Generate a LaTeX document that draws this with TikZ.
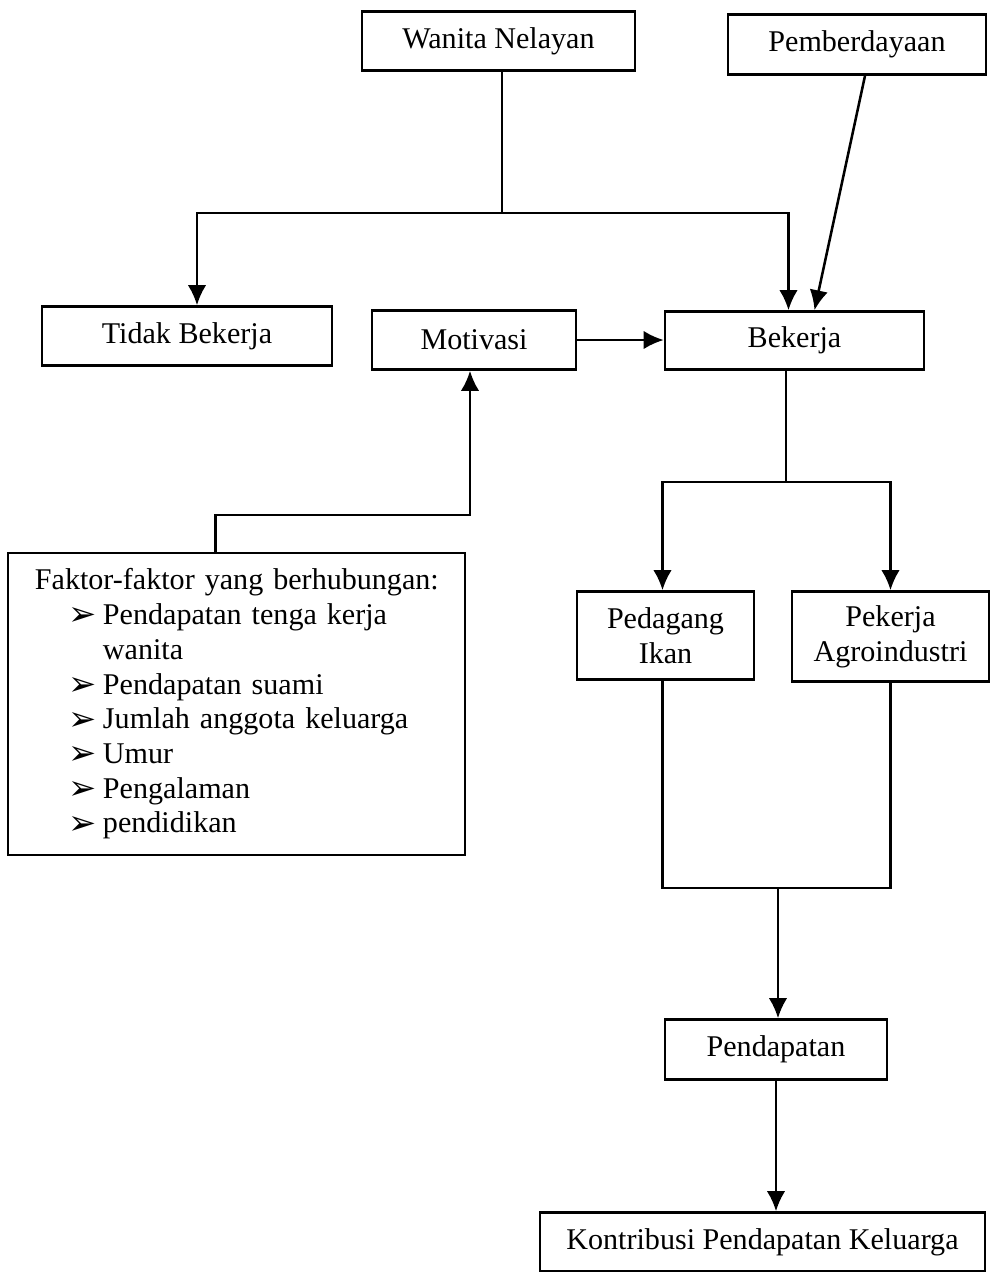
\documentclass[tikz,border=0pt]{standalone}
\usepackage{fontspec}
\setmainfont{Liberation Serif}
\newfontfamily\symfont{DejaVu Sans}
\usetikzlibrary{arrows.meta,calc}

% butir daftar faktor
\newcommand{\kiri}{\hspace*{19.2pt}}
\newcommand{\butir}[1]{\kiri\hspace*{24.2pt}\makebox[24.2pt][l]{\symfont\fontsize{24}{24}\selectfont\raisebox{-1pt}{➢}}#1}
\newcommand{\lanjut}[1]{\kiri\hspace*{48.4pt}#1}

\tikzset{
  kotak/.style={draw, line width=1.8pt, inner sep=0pt, align=center},
  panah/.style={line width=1.8pt, -{Latex[length=5mm,width=4.6mm]}},
  garis/.style={line width=1.8pt}
}

\begin{document}
\begin{tikzpicture}[x=0.025cm,y=-0.025cm,font=\fontsize{21.4}{24.7}\selectfont]
\useasboundingbox (0,0) rectangle (991,1272);

% kotak
\node[kotak,minimum width=6.825cm,minimum height=1.475cm] (wanita) at (498.5,41) {Wanita Nelayan};
\node[kotak,minimum width=6.45cm,minimum height=1.5cm] (pember) at (857,44.5) {Pemberdayaan};
\node[kotak,minimum width=7.25cm,minimum height=1.475cm] (tidak) at (187,336) {Tidak Bekerja};
\node[kotak,minimum width=5.1cm,minimum height=1.475cm] (motiv) at (474,340) {Motivasi};
\node[kotak,minimum width=6.475cm,minimum height=1.45cm] (bekerja) at (794.5,340.5) {Bekerja};
\node[kotak,align=left,text width=11.425cm,minimum height=7.55cm] (faktor) at (236.5,704) {%
\kiri Faktor-faktor yang berhubungan:\\
\butir{Pendapatan tenga kerja}\\
\lanjut{wanita}\\
\butir{Pendapatan suami}\\
\butir{Jumlah anggota keluarga}\\
\butir{Umur}\\
\butir{Pengalaman}\\
\butir{pendidikan}};
\node[kotak,minimum width=4.425cm,minimum height=2.2cm] (pedagang) at (665.5,635.5) {Pedagang\\Ikan};
\node[kotak,minimum width=4.925cm,minimum height=2.25cm] (pekerja) at (890.5,636.5) {Pekerja\\Agroindustri};
\node[kotak,minimum width=5.55cm,minimum height=1.5cm] (pendapatan) at (776,1049.5) {Pendapatan};
\node[kotak,minimum width=11.125cm,minimum height=1.475cm] (kontribusi) at (762.5,1242) {Kontribusi Pendapatan Keluarga};

% garis penghubung
\coordinate (j1) at (502,213);
\draw[garis] (wanita.south -| j1) -- (j1);
\draw[panah] (j1) -| ($(tidak.north)+(10,0)$);
\draw[panah] (j1) -| ($(bekerja.north)+(-6,0)$);
\draw[panah] ($(pember.south)+(8,0)$) -- ($(bekerja.north)+(20,0)$);
\draw[panah] (motiv.east) -- (motiv.east -| bekerja.west);
\coordinate (j2) at (470,515);
\draw[panah] ($(faktor.north)+(-21,0)$) |- (j2) -- (j2 |- motiv.south);
\coordinate (j3) at (786,482);
\draw[garis] (bekerja.south -| j3) -- (j3);
\draw[panah] (j3) -| ($(pedagang.north)+(-3,0)$);
\draw[panah] (j3) -| (pekerja.north);
\coordinate (j4) at (778,888);
\draw[garis] ($(pedagang.south)+(-3,0)$) |- (j4) -| (pekerja.south);
\draw[panah] (j4) -- (j4 |- pendapatan.north);
\draw[panah] (pendapatan.south) -- (pendapatan.south |- kontribusi.north);
\end{tikzpicture}
\end{document}
